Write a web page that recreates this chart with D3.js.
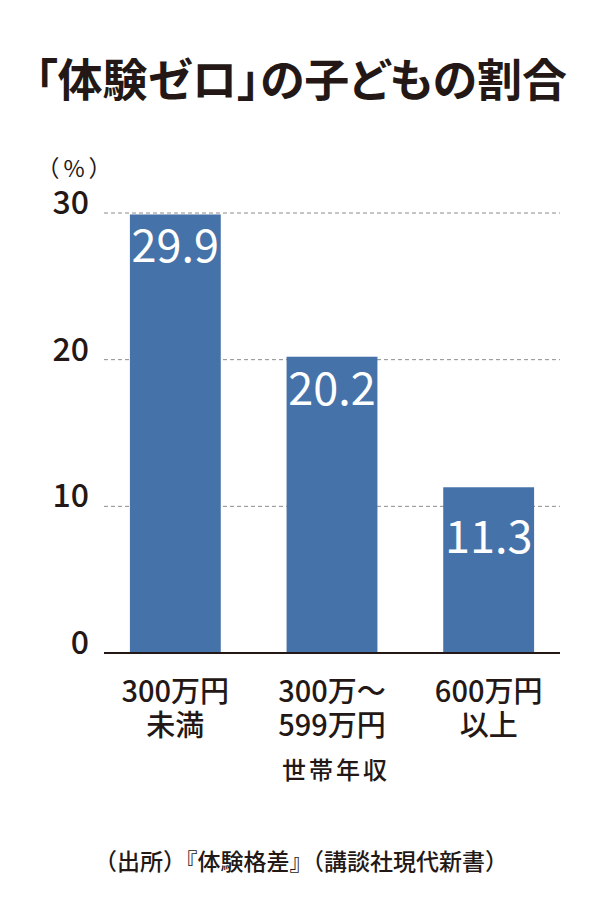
<!DOCTYPE html>
<html><head><meta charset="utf-8">
<script src="https://cdn.jsdelivr.net/npm/d3@7"></script>
<style>
body{margin:0;background:#fff;}
svg{display:block;}
text{font-family:"Noto Sans CJK JP","Noto Sans",sans-serif;}
</style></head>
<body>
<script>
const categories = [["300万円","未満"],["300万～","599万円"],["600万円","以上"]];
const values = [29.9, 20.2, 11.3];
const ticks = [0, 10, 20, 30];
const title = "「体験ゼロ」の子どもの割合";
const unit = "（%）";
const xTitle = "世帯年収";
const source = "（出所）『体験格差』（講談社現代新書）";

const W = 600, H = 900;
const ink = "#231815", barColor = "#4572a9";
const svg = d3.select("body").append("svg").attr("width", W).attr("height", H);

const x = d3.scaleBand().domain(d3.range(values.length)).range([97, 567]).paddingInner(0.42).paddingOuter(0.21);
const y = d3.scaleLinear().domain([0, 30]).range([653, 213]);

svg.append("text").attr("x", 35).attr("y", 97)
  .attr("font-size", 45).attr("font-weight", 600).attr("fill", ink)
  .style("font-feature-settings", "'palt'")
  .attr("textLength", 532).attr("lengthAdjust", "spacing").text(title);

svg.append("text").attr("x", 76).attr("y", 177).attr("text-anchor", "middle")
  .attr("font-size", 23).attr("letter-spacing", 4).attr("fill", ink).text(unit);

// gridlines
svg.append("g").selectAll("line").data(ticks.filter(t => t > 0)).join("line")
  .attr("x1", 104).attr("x2", 560).attr("y1", d => y(d)).attr("y2", d => y(d))
  .attr("stroke", "#8c8c8c").attr("stroke-width", 1).attr("stroke-dasharray", "4,3");

// tick labels
svg.append("g").selectAll("text").data(ticks).join("text")
  .attr("x", 89).attr("y", d => y(d) + 1).attr("text-anchor", "end")
  .attr("font-size", 32).attr("font-weight", 500).attr("fill", ink).text(d => d);

// bars
svg.append("g").selectAll("rect").data(values).join("rect")
  .attr("x", (d, i) => x(i)).attr("width", x.bandwidth())
  .attr("y", d => y(d)).attr("height", d => y(0) - y(d)).attr("fill", barColor);

// value labels: inside top of bar, pushed below a gridline if they would cross it
function labelY(d) {
  let b = y(d) + 48;
  const g = y(Math.floor(d / 10) * 10);
  if (b - 36 < g && b > g) b = g + 47;
  return b;
}
svg.append("g").selectAll("text").data(values).join("text")
  .attr("x", (d, i) => x(i) + x.bandwidth() / 2)
  .attr("y", labelY)
  .attr("text-anchor", "middle").attr("font-size", 45).attr("fill", "#fff")
  .text(d => d.toFixed(1));

// axis line
svg.append("line").attr("x1", 104).attr("x2", 560).attr("y1", y(0)).attr("y2", y(0))
  .attr("stroke", ink).attr("stroke-width", 2);

// category labels
const cg = svg.append("g").selectAll("text").data(categories).join("text")
  .attr("text-anchor", "middle").attr("font-size", 29).attr("font-weight", 500).attr("fill", ink);
cg.selectAll("tspan").data((d, i) => d.map(s => ({s, i}))).join("tspan")
  .attr("x", d => x(d.i) + x.bandwidth() / 2)
  .attr("y", (d, j) => 702 + j * 34).text(d => d.s);

svg.append("text").attr("x", x(1) + x.bandwidth() / 2 + 4).attr("y", 779).attr("text-anchor", "middle")
  .attr("font-size", 24).attr("font-weight", 500).attr("letter-spacing", 3).attr("fill", ink).text(xTitle);

svg.append("text").attr("x", 301).attr("y", 870).attr("text-anchor", "middle")
  .attr("font-size", 23).attr("font-weight", 500).attr("fill", ink).text(source);
</script>
</body></html>
